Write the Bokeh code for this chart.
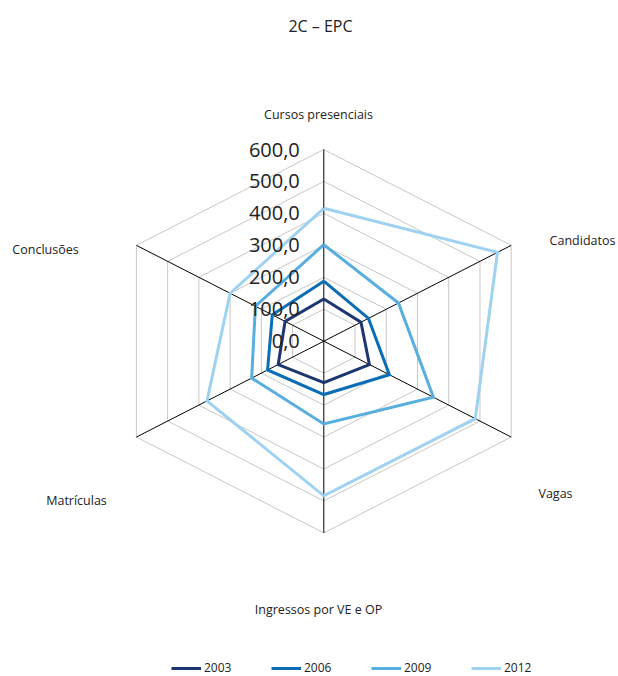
import numpy as np
from bokeh.plotting import figure
from bokeh.models import Range1d, Legend, LegendItem
from bokeh.core.properties import value
from bokeh.embed import file_html
from bokeh.resources import INLINE

title = "2C – EPC"
categories = ["Cursos presenciais", "Candidatos", "Vagas",
              "Ingressos por VE e OP", "Matrículas", "Conclusões"]
years = ["2003", "2006", "2009", "2012"]
v2003 = [132, 119, 146, 130, 146, 124]
v2006 = [188, 143, 210, 167, 180, 165]
v2009 = [302, 239, 351, 259, 231, 219]
v2012 = [416, 556, 485, 484, 374, 300]
ticks = [0, 100, 200, 300, 400, 500, 600]
tick_labels = ["0,0", "100,0", "200,0", "300,0", "400,0", "500,0", "600,0"]
series = [v2003, v2006, v2009, v2012]
colors = ["#1b3670", "#0a6db5", "#58aede", "#9fd2f0"]

W, H = 618, 676
cx, cy = 323.3, 340.7
sy = 191.7 / 600.0
sx = 187.4 / (600.0 * np.cos(np.pi / 6))
FONT = "Open Sans"

p = figure(width=W, height=H, output_backend="svg", toolbar_location=None,
           x_range=Range1d(-cx / sx, (W - cx) / sx),
           y_range=Range1d(-(H - cy) / sy, cy / sy),
           min_border=0, outline_line_color=None)
p.axis.visible = False
p.grid.visible = False
p.background_fill_color = None
p.border_fill_color = "white"

n = len(categories)
ang = np.pi / 2 - 2 * np.pi * np.arange(n) / n
ux, uy = np.cos(ang), np.sin(ang)

# grid rings
for t in ticks[1:]:
    xs = list(ux * t) + [ux[0] * t]
    ys = list(uy * t) + [uy[0] * t]
    p.line(xs, ys, line_color="#c8c8c8", line_width=1)

# spokes
rmax = ticks[-1]
p.segment(x0=[0] * n, y0=[0] * n, x1=list(ux * rmax), y1=list(uy * rmax),
          line_color="black", line_width=1)

# series
renderers = []
for vals, c in zip(series, colors):
    v = np.array(vals, dtype=float)
    xs = list(ux * v) + [ux[0] * v[0]]
    ys = list(uy * v) + [uy[0] * v[0]]
    r = p.line(xs, ys, line_color=c, line_width=3, line_join="miter")
    renderers.append(r)

# tick labels
p.text(x=[0] * len(ticks), y=ticks, text=tick_labels, x_offset=-24,
       text_align="right", text_baseline="middle", text_font=value(FONT),
       text_font_size="20px", text_color="#222222")

# category labels (placed outside hexagon)
lab_pos = [(318, 114), (582, 240), (555, 493),
           (318, 609), (76, 500), (45, 249)]
lx = [(px - cx) / sx for px, py in lab_pos]
ly = [(cy - py) / sy for px, py in lab_pos]
p.text(x=lx, y=ly, text=categories, text_align="center", text_baseline="middle",
       text_font=value(FONT), text_font_size="12.5px", text_color="#222222")

# title
p.text(x=[(320 - cx) / sx], y=[(cy - 25) / sy], text=[title],
       text_align="center", text_baseline="middle", text_font=value(FONT),
       text_font_size="16px", text_color="#222222")

legend = Legend(items=[LegendItem(label=y, renderers=[r]) for y, r in zip(years, renderers)],
                orientation="horizontal", location=(171, 0),
                glyph_width=30, glyph_height=12, label_standoff=3, label_width=67,
                spacing=0, padding=0, margin=0, border_line_color=None,
                background_fill_alpha=0, label_text_font=FONT,
                label_text_font_size="12px", label_text_color="#222222")
p.add_layout(legend, "center")

open("out.html", "w").write(file_html(p, INLINE))
